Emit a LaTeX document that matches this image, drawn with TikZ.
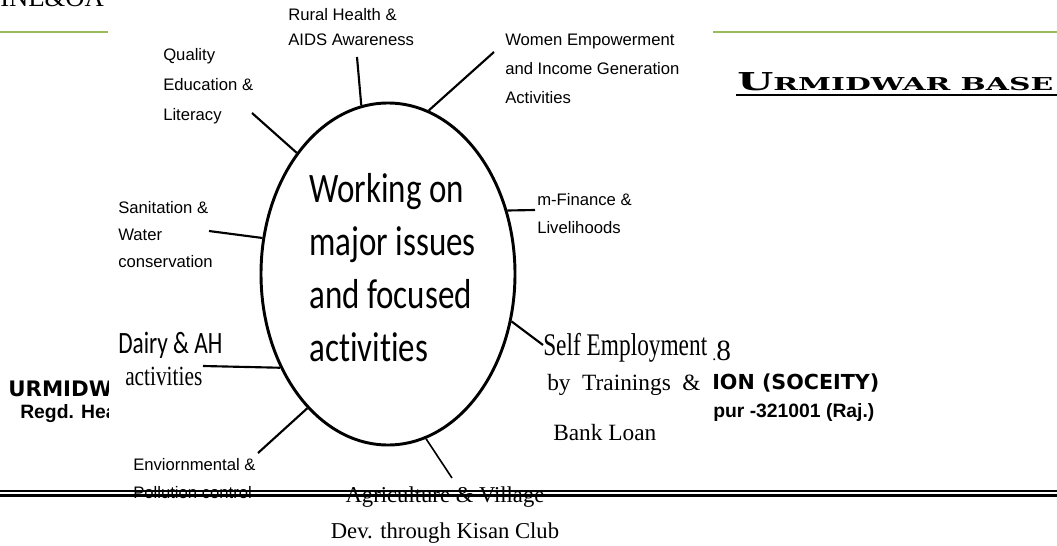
\documentclass[tikz,border=0pt]{standalone}
\usepackage{fontspec}
\usepackage{graphicx}
\setmainfont{Liberation Serif}
\setsansfont{Liberation Sans}
\newfontfamily\calibfont[Ligatures=NoCommon]{Carlito}
\newfontfamily\heavysans{DejaVu Sans}
\newfontfamily\heavyserif{DejaVu Serif}
\usetikzlibrary{shapes.geometric}
\definecolor{olivebar}{HTML}{9BBB59}
\newcommand{\tallbox}[2]{\scalebox{1}[#1]{#2}}

\tikzset{
  hubshape/.style={draw, ellipse, line width=2.2pt, minimum width=190.5pt, minimum height=256.5pt, inner sep=0pt},
  spoke/.style={line width=1.6pt},
  issue/.style={font=\sffamily\fontsize{12.5}{#1}\selectfont, align=left, anchor=base west, inner sep=0pt},
  issue/.default=21pt,
  doctext/.style={anchor=base west, inner sep=0pt},
}

\begin{document}
\begin{tikzpicture}[x=0.75pt, y=-0.75pt]
\useasboundingbox (0,0) rectangle (1057,546);
\clip (0,0) rectangle (1057,546);

% page behind the picture
\node[doctext, font=\rmfamily\fontsize{20}{20}\selectfont] (pagetop) at (0,7) {INE\&OA};
\draw[olivebar, line width=1.8pt] (0,32) -- (108,32);
\draw[olivebar, line width=1.8pt] (713,32) -- (1057,32);
\node[doctext, font=\heavyserif\bfseries] (title) at (737,90)
  {\scalebox{1.68}[1]{\fontsize{18.5}{18}\selectfont U\fontsize{13.3}{13}\selectfont RMIDWAR BASE}};
\draw[line width=1.5pt] (736,95) -- (1057,95);
\begin{scope}
  \clip (0,370) rectangle (108,430);
  \node[doctext, font=\heavysans\bfseries\fontsize{16}{16}\selectfont] (orgleft) at (8,396) {URMIDW};
  \node[doctext, font=\sffamily\bfseries\fontsize{14.5}{15}\selectfont] (regdleft) at (20,418) {Regd. Hea};
\end{scope}
\node[doctext, font=\heavysans\bfseries\fontsize{15.5}{16}\selectfont] (orgright) at (712,389) {ION (SOCEITY)};
\node[doctext, font=\sffamily\bfseries\fontsize{14.5}{15}\selectfont] (regdright) at (713,417) {pur -321001 (Raj.)};
\node[doctext, font=\rmfamily\fontsize{22}{22}\selectfont] (yeartail) at (712,360) {{\fontsize{12}{12}\selectfont.}8};

% the issues picture
\node[hubshape] (hub) at (388,274) {};
\node[doctext, align=left, font=\calibfont\fontsize{24.75}{39.75}\selectfont] (hubtext) at (309,361)
  {\tallbox{1.27}{Working on}\\\tallbox{1.27}{major issues}\\\tallbox{1.27}{and focused}\\\tallbox{1.27}{activities}};

\node[issue=22.5pt] (qual) at (163,120) {Quality\\Education \&\\Literacy};
\node[issue=18.75pt] (rural) at (288,45) {Rural Health \&\\AIDS Awareness};
\node[issue=21.75pt] (women) at (505,103) {Women Empowerment\\and Income Generation\\Activities};
\node[issue=21pt] (mfin) at (537,233) {m-Finance \&\\Livelihoods};
\node[issue=20.25pt] (sanit) at (118,267) {Sanitation \&\\Water\\conservation};
\node[issue=21pt] (envi) at (133,498) {Enviornmental \&\\Pollution control};
\node[doctext, align=left, font=\rmfamily\fontsize{17.5}{26.25}\selectfont] (selfemp) at (543,440)
  {\tallbox{1.35}{Self Employment}\\\hspace*{3pt}\makebox[115pt][s]{by Trainings \&}\\[11.25pt]\hspace*{7.5pt}Bank Loan};
\node[anchor=base, inner sep=0pt, align=center, font=\rmfamily\fontsize{17}{27}\selectfont] (agri) at (445,538)
  {Agriculture \& Village\\Dev. through Kisan Club};
\node[doctext, font=\calibfont\fontsize{17.5}{20}\selectfont] (dairy) at (118,353) {\tallbox{1.33}{Dairy \& AH}};
\node[doctext, font=\rmfamily\fontsize{16}{20}\selectfont] (dairyact) at (125,385) {\tallbox{1.3}{activities}};

\coordinate (qualend) at (252,113);
\coordinate (ruralend) at (357,57);
\coordinate (womenend) at (494,52);
\coordinate (mfinend) at (535,210);
\coordinate (selfend) at (543,345);
\coordinate (agriend) at (452,478);
\coordinate (enviend) at (258,453);
\coordinate (dairyend) at (203,366);
\coordinate (sanitend) at (209,231);

\draw[spoke] (hub.127) -- (qualend);
\draw[spoke] (hub.99) -- (ruralend);
\draw[spoke] (hub.76) -- (womenend);
\draw[spoke] (hub.28) -- (mfinend);
\draw[spoke] (hub.-21) -- (selfend);
\draw[spoke, line width=1.2pt] (hub.-77) -- (agriend);
\draw[spoke] (hub.-121) -- (enviend);
\draw[spoke] (hub.-139) -- (dairyend);
\draw[spoke] (hub.164) -- (sanitend);

% rule across the page
\draw[line width=1.6pt] (0,491) -- (1057,491);
\draw[line width=1.6pt] (0,495.5) -- (1057,495.5);
\end{tikzpicture}
\end{document}
